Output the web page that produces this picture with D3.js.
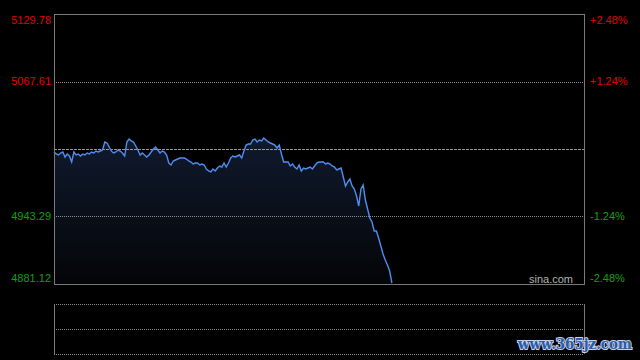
<!DOCTYPE html>
<html>
<head>
<meta charset="utf-8">
<script src="https://cdn.jsdelivr.net/npm/d3@7"></script>
<style>
    body { margin: 0; background: #000; }
    svg { display: block; font-family: "Liberation Sans", Arial, sans-serif; }
    .grid { stroke: #8c8c8c; stroke-width: 1; stroke-dasharray: 1,1; }
    .frame { stroke: #7a7a7a; stroke-width: 1; fill: none; }
</style>
</head>
<body>
<svg id="chart" width="640" height="360"></svg>
<script>
// previous close and axis range
var prevClose = 5005.45;
var priceTicks = [5129.78, 5067.61, 4943.29, 4881.12];
var pctTicks = ["+2.48%", "+1.24%", "-1.24%", "-2.48%"];
var totalMinutes = 241;

// minute prices (index 0 = 9:30)
var prices = [
    5002.69, 5000.85, 4999.93, 5001.77, 5002.69, 4998.08, 5000.85, 4999.00, 4993.48, 5002.69,
    4999.93, 5000.85, 4999.00, 5000.85, 4999.93, 5001.77, 5000.85, 5002.69, 5001.77, 5003.61,
    5002.69, 5003.61, 5004.53, 5011.90, 5010.98, 5007.29, 5003.61, 5001.77, 5002.69, 5004.53,
    5003.61, 5001.77, 4999.00, 5011.90, 5014.66, 5012.82, 5011.90, 5008.21, 5004.53, 4999.93,
    5001.77, 4999.93, 4998.08, 4999.93, 5002.69, 5005.45, 5007.29, 5004.53, 5001.77, 5003.61,
    5002.69, 4999.93, 4992.56, 4990.71, 4994.40, 4995.32, 4996.24, 4997.16, 4997.16, 4997.16,
    4996.24, 4994.40, 4993.48, 4991.64, 4992.56, 4992.56, 4990.71, 4991.64, 4990.71, 4987.03,
    4985.19, 4984.27, 4987.03, 4985.19, 4987.95, 4989.79, 4988.87, 4992.56, 4988.87, 4992.56,
    4997.16, 4999.00, 4998.08, 4999.00, 4999.93, 4997.16, 5003.61, 5009.13, 5010.06, 5010.06,
    5013.74, 5014.66, 5011.90, 5013.74, 5012.82, 5015.58, 5013.74, 5011.90, 5010.98, 5010.06,
    5009.13, 5006.37, 5009.13, 5000.85, 4993.48, 4993.48, 4993.48, 4989.79, 4991.64, 4988.87,
    4987.03, 4990.71, 4985.19, 4987.95, 4987.03, 4987.95, 4988.87, 4987.03, 4989.79, 4992.56,
    4993.48, 4993.48, 4993.48, 4991.64, 4992.56, 4991.64, 4989.79, 4988.87, 4986.11, 4987.03,
    4987.95, 4979.66, 4971.37, 4975.06, 4977.82, 4971.37, 4968.61, 4962.16, 4952.95, 4968.61,
    4972.30, 4958.48, 4950.19, 4941.90, 4938.22, 4929.93, 4929.93, 4923.48, 4916.11, 4908.75,
    4903.22, 4898.62, 4893.09, 4882.04
];

var svg = d3.select("#chart");

// note: "top" is a reserved window global, so use plot* names
var plotLeft = 54, plotRight = 584, plotTop = 14, plotBottom = 284;

var xScale = d3.scaleLinear()
    .domain([0, totalMinutes - 1])
    .range([plotLeft, plotRight]);

var yScale = d3.scaleLinear()
    .domain([priceTicks[3], priceTicks[0]])
    .range([plotBottom, plotTop]);

// gradient under the line
var grad = svg.append("defs").append("linearGradient")
    .attr("id", "areaFill")
    .attr("x1", 0).attr("y1", 0).attr("x2", 0).attr("y2", 1);
grad.append("stop").attr("offset", "0%").attr("stop-color", "#101a2e");
grad.append("stop").attr("offset", "100%").attr("stop-color", "#040507");

var area = d3.area()
    .x(function (d, i) { return xScale(i); })
    .y0(plotBottom)
    .y1(function (d) { return yScale(d); });

svg.append("path")
    .datum(prices)
    .attr("d", area)
    .attr("fill", "url(#areaFill)");

// grid lines
svg.selectAll(".gridLine")
    .data([priceTicks[1], priceTicks[2]])
    .enter()
    .append("line")
    .attr("class", "grid")
    .attr("x1", plotLeft).attr("x2", plotRight)
    .attr("y1", function (d) { return Math.round(yScale(d)) + 0.5; })
    .attr("y2", function (d) { return Math.round(yScale(d)) + 0.5; });

// previous close line
svg.append("line")
    .attr("x1", plotLeft).attr("x2", plotRight)
    .attr("y1", Math.round(yScale(prevClose)) + 0.5)
    .attr("y2", Math.round(yScale(prevClose)) + 0.5)
    .attr("stroke", "#9a9a9a")
    .attr("stroke-dasharray", "3,1");

var line = d3.line()
    .x(function (d, i) { return xScale(i); })
    .y(function (d) { return yScale(d); });

svg.append("path")
    .datum(prices)
    .attr("d", line)
    .attr("fill", "none")
    .attr("stroke", "#4f8ef0")
    .attr("stroke-width", 1.4);

// frame of the price panel
svg.append("rect")
    .attr("class", "frame")
    .attr("x", plotLeft + 0.5).attr("y", plotTop + 0.5)
    .attr("width", plotRight - plotLeft).attr("height", plotBottom - plotTop);

// labels: nudge first and last inside the panel
var labelY = function (d, i) {
    var y = yScale(d);
    if (i === 0) y += 6;
    if (i === priceTicks.length - 1) y -= 6;
    return y;
};
var labelColor = function (d) { return d > prevClose ? "#e60000" : "#12a012"; };

svg.selectAll(".priceLabel")
    .data(priceTicks)
    .enter()
    .append("text")
    .attr("x", 51)
    .attr("y", labelY)
    .attr("dy", "0.35em")
    .attr("text-anchor", "end")
    .attr("font-size", 11)
    .attr("fill", labelColor)
    .text(function (d) { return d.toFixed(2); });

svg.selectAll(".pctLabel")
    .data(priceTicks)
    .enter()
    .append("text")
    .attr("x", 590)
    .attr("y", labelY)
    .attr("dy", "0.35em")
    .attr("font-size", 11)
    .attr("fill", labelColor)
    .text(function (d, i) { return pctTicks[i]; });

svg.append("text")
    .attr("x", 573).attr("y", 279)
    .attr("dy", "0.35em")
    .attr("text-anchor", "end")
    .attr("font-size", 11)
    .attr("fill", "#b4b4b4")
    .text("sina.com");

// volume panel (empty)
var volTop = 304, volBottom = 354;
svg.selectAll(".volGrid")
    .data([volTop, (volTop + volBottom) / 2, volBottom])
    .enter()
    .append("line")
    .attr("class", "grid")
    .attr("x1", plotLeft).attr("x2", plotRight)
    .attr("y1", function (d) { return d + 0.5; })
    .attr("y2", function (d) { return d + 0.5; });

svg.selectAll(".volEdge")
    .data([plotLeft, plotRight])
    .enter()
    .append("line")
    .attr("stroke", "#7a7a7a")
    .attr("x1", function (d) { return d + 0.5; })
    .attr("x2", function (d) { return d + 0.5; })
    .attr("y1", volTop).attr("y2", volBottom);

// watermark
svg.append("text")
    .attr("x", 518).attr("y", 349)
    .attr("font-family", "DejaVu Serif, serif")
    .attr("font-weight", "bold")
    .attr("font-size", 14)
    .attr("textLength", 114)
    .attr("lengthAdjust", "spacingAndGlyphs")
    .attr("fill", "#2a5aa8")
    .attr("stroke", "#c8d2e6")
    .attr("stroke-width", 2)
    .attr("paint-order", "stroke")
    .text("www.365jz.com");
</script>
</body>
</html>
